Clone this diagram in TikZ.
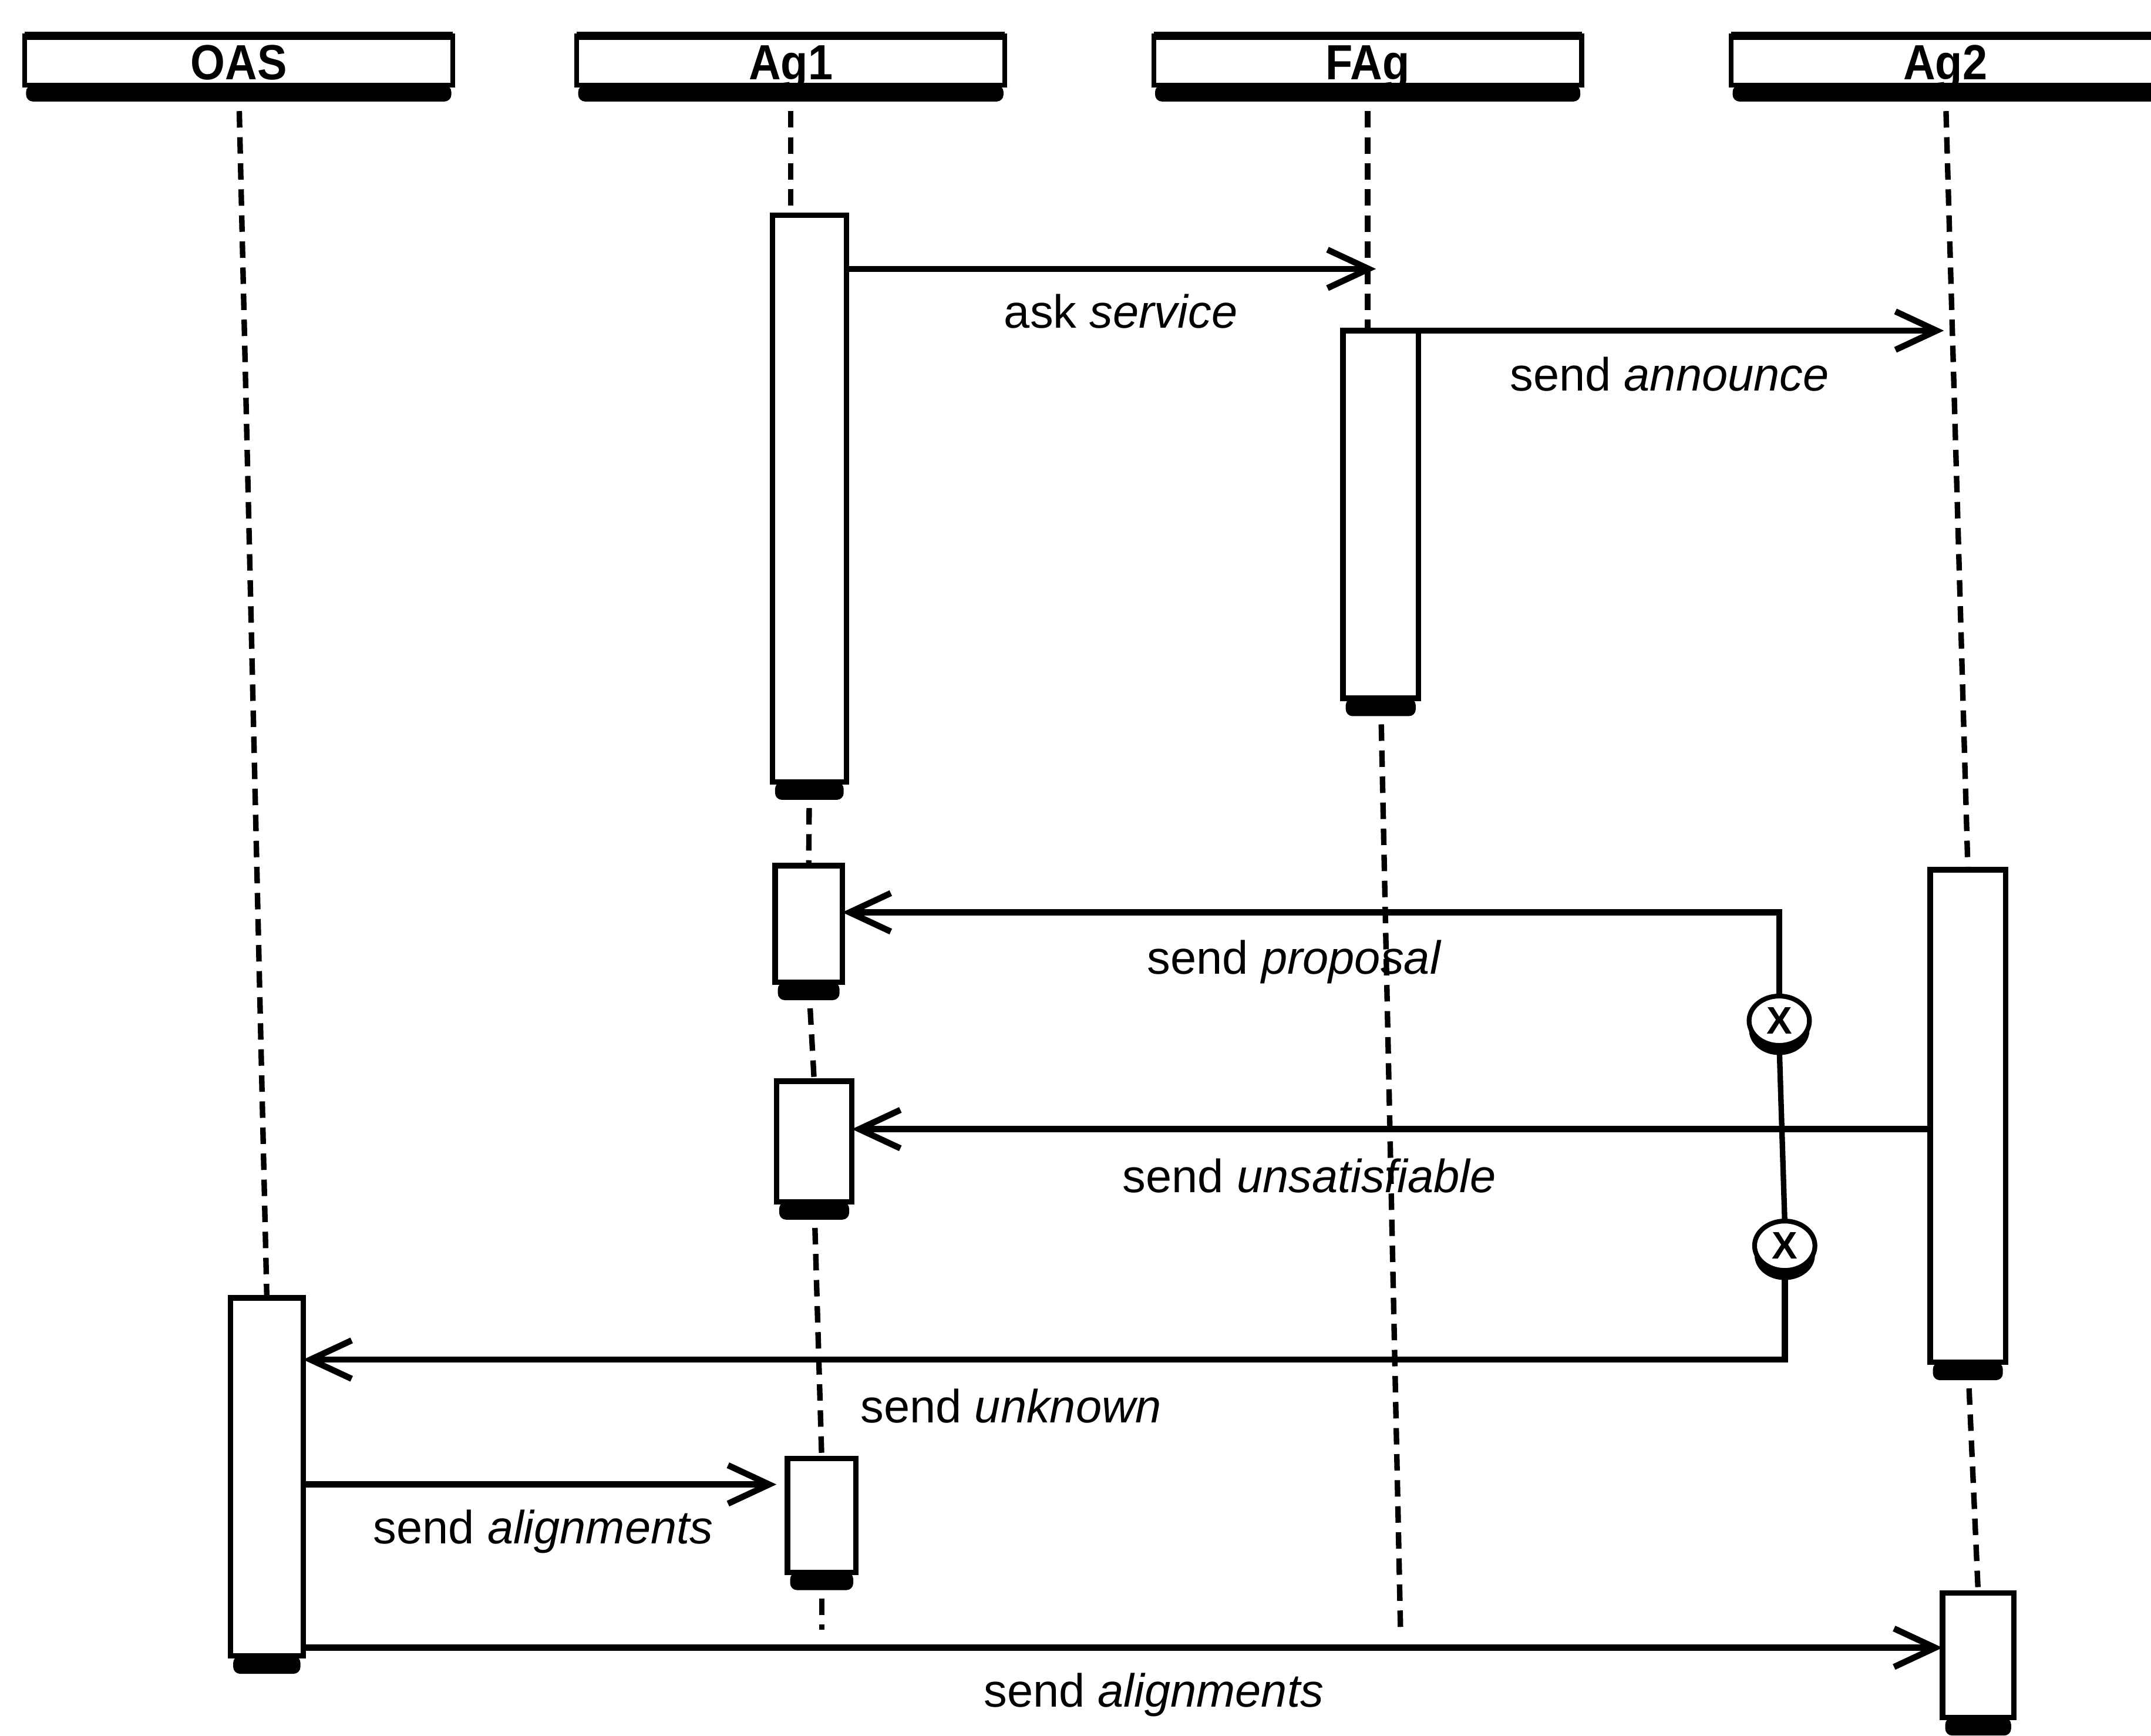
\documentclass[tikz,border=0pt]{standalone}
\usepackage{fontspec}
\usepackage{graphicx}
\setmainfont{Liberation Sans}
\usetikzlibrary{arrows.meta,shapes.geometric,calc}
\begin{document}
\begin{tikzpicture}[x=1pt,y=-1pt,
  every node/.style={inner sep=0pt, outer sep=0pt},
  head/.style={draw, line width=3.5pt, fill=white, minimum width=312pt, minimum height=36pt,
    text height=30pt, text depth=2pt, font=\fontsize{36}{36}\selectfont\bfseries},
  act/.style={draw, line width=4pt, fill=white},
  life/.style={line width=4pt, dash pattern=on 12pt off 7pt},
  msg/.style={line width=4.5pt, -{Straight Barb[length=30pt,width=28pt]}},
  conn/.style={line width=4pt},
  lbl/.style={font=\fontsize{34}{34}\selectfont, anchor=base},
  xnode/.style={draw, ellipse, line width=3.5pt, fill=white, minimum width=44pt, minimum height=36pt,
    font=\fontsize{28}{28}\selectfont\bfseries},
  shadowfill/.style={fill=black, rounded corners=5pt},
]
\useasboundingbox (0,0) rectangle (1568,1265);
\fill[white] (0,0) rectangle (1568,1265);
\clip (0,0) rectangle (1568,1265);

% headers
\node[head] (hOAS) at (174,44) {\scalebox{0.9}[1]{OAS}};
\node[head] (hAg1) at (576.5,44) {\scalebox{0.9}[1]{Ag1}};
\node[head] (hFAg) at (997,44) {\scalebox{0.9}[1]{FAg}};
\node[head] (hAg2) at (1418,44) {\scalebox{0.9}[1]{Ag2}};
\foreach \h in {hOAS,hAg1,hFAg,hAg2}{
  \draw[line width=6pt] (\h.north west) -- (\h.north east);
  \fill[shadowfill] ([xshift=1pt]\h.south west) rectangle ([xshift=-1pt,yshift=-12pt]\h.south east);
}

% activation bar centres
\coordinate (oasactc) at (194.5,1076.5);
\coordinate (a1c) at (590,363.5);
\coordinate (a2c) at (589.5,673.5);
\coordinate (a3c) at (593.5,832);
\coordinate (a4c) at (599,1104.5);
\coordinate (f1c) at (1006.5,375);
\coordinate (b1c) at (1434.5,813.5);
\coordinate (b2c) at (1442,1206.5);

% placeholders used to route lifelines and messages
\node[minimum width=53pt, minimum height=261pt] (oasact) at (oasactc) {};
\node[minimum width=54pt, minimum height=413pt] (a1) at (a1c) {};
\node[minimum width=49pt, minimum height=85pt] (a2) at (a2c) {};
\node[minimum width=55pt, minimum height=88pt] (a3) at (a3c) {};
\node[minimum width=50pt, minimum height=83pt] (a4) at (a4c) {};
\node[minimum width=55pt, minimum height=268pt] (f1) at (f1c) {};
\node[minimum width=55pt, minimum height=359pt] (b1) at (b1c) {};
\node[minimum width=52pt, minimum height=91pt] (b2) at (b2c) {};

\coordinate (e1) at (599,1188);
\coordinate (e2) at (1021,1192);

% lifelines
\draw[life] (hOAS.south) -- (oasact.north);
\draw[life] (hAg1.south) -- (hAg1.south |- a1.north);
\draw[life] (a1.south) -- (a2.north);
\draw[life] (a2.south) -- (a3.north);
\draw[life] (a3.south) -- (a4.north);
\draw[life] (a4.south) -- (e1);
\draw[life] (hFAg.south) -- (hFAg.south |- f1.north);
\draw[life] (f1.south) -- (e2);
\draw[life] (hAg2.south) -- (b1.north);
\draw[life] (b1.south) -- (b2.north);

% activation bars drawn
\foreach \n/\w/\hh in {oasact/53/261, a1/54/413, a2/49/85, a3/55/88, a4/50/83, f1/55/268, b1/55/359, b2/52/91}{
  \node[act, minimum width=\w pt, minimum height=\hh pt] (\n draw) at (\n c) {};
  \fill[shadowfill] ([xshift=2pt]\n draw.south west) rectangle ([xshift=-2pt,yshift=-13pt]\n draw.south east);
}

% X markers
\coordinate (cx1) at (1297,744);
\coordinate (cx2) at (1301,908);
\fill ([yshift=-7pt]cx1) ellipse [x radius=22pt, y radius=18pt];
\fill ([yshift=-7pt]cx2) ellipse [x radius=22pt, y radius=18pt];
\node[xnode] (x1) at (cx1) {X};
\node[xnode] (x2) at (cx2) {X};

% message levels
\coordinate (askE) at (1003,196);
\coordinate (annE) at (1417,241);
\coordinate (pr) at (0,665);
\coordinate (us) at (0,823);
\coordinate (uk) at (0,991);
\coordinate (al1) at (0,1082);
\coordinate (al2) at (0,1201);

% messages
\draw[msg] (a1.east |- askE) -- (askE);
\draw[msg] (f1.north west) -- (annE);
\draw[msg] (x1.north) |- (a2.east |- pr);
\draw[msg] (b1.west |- us) -- (a3.east |- us);
\draw[conn] (x1.south) -- (x2.north);
\draw[msg] (x2.south) |- (oasact.east |- uk);
\draw[msg, shorten >=8pt] (oasact.east |- al1) -- (a4.west |- al1);
\draw[msg] (oasact.east |- al2) -- (b2.west |- al2);

% labels
\node[lbl] (l1) at (817,239) {ask \textit{service}};
\node[lbl] (l2) at (1217,285) {send \textit{announce}};
\node[lbl] (l3) at (943.5,710) {send \textit{proposal}};
\node[lbl] (l4) at (954.5,869) {send \textit{unsatisfiable}};
\node[lbl] (l5) at (737,1037) {send \textit{unknown}};
\node[lbl] (l6) at (396,1125) {send \textit{alignments}};
\node[lbl] (l7) at (841,1244) {send \textit{alignments}};
\end{tikzpicture}
\end{document}
